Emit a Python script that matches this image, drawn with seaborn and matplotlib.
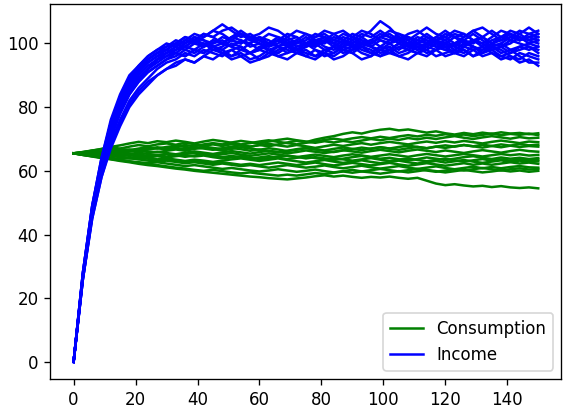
import pandas as pd
import matplotlib.pyplot as plt
import seaborn as sns

# time grid the paths were read on (every 3 periods)
t = list(range(0, 151, 3))

consumption_paths = [
    [65.5, 65.9, 66.4, 66.8, 67.3, 67.0, 67.6, 68.1, 67.7, 68.3,
     68.6, 68.2, 68.8, 68.4, 67.9, 68.3, 67.8, 68.4, 68.0, 67.6,
     68.1, 67.7, 68.3, 68.9, 69.4, 69.0, 69.8, 70.4, 70.9, 71.6,
     72.1, 71.7, 72.4, 72.9, 73.2, 72.7, 73.0, 72.5, 72.0, 72.4,
     71.8, 71.4, 71.9, 71.5, 72.0, 71.6, 72.1, 71.7, 71.9, 71.5, 71.8],
    [65.5, 65.8, 66.3, 66.9, 67.5, 68.0, 68.6, 69.1, 68.7, 69.3,
     69.0, 69.5, 69.1, 68.6, 69.2, 69.7, 69.3, 68.8, 68.3, 68.7,
     69.2, 69.6, 69.1, 68.7, 68.3, 68.8, 69.2, 69.7, 70.1, 69.7,
     70.2, 70.6, 70.2, 70.7, 70.3, 70.8, 71.2, 70.8, 71.3, 71.0,
     71.5, 71.1, 71.4, 70.9, 71.3, 71.7, 71.2, 71.6, 71.3, 71.7, 71.2],
    [65.5, 65.3, 65.7, 66.1, 65.8, 66.3, 66.7, 66.3, 66.9, 67.4,
     67.0, 67.6, 68.1, 67.7, 68.3, 68.7, 68.3, 68.9, 69.4, 69.0,
     68.6, 69.2, 69.7, 70.1, 69.6, 69.2, 68.8, 69.3, 68.9, 69.4,
     69.0, 69.5, 70.0, 69.6, 70.1, 69.7, 70.3, 69.9, 70.4, 70.0,
     70.5, 70.9, 70.4, 70.0, 70.5, 70.9, 70.5, 70.1, 70.6, 70.2, 70.4],
    [65.5, 65.7, 65.4, 65.9, 66.3, 66.0, 66.5, 66.1, 66.7, 67.1,
     66.7, 67.2, 66.8, 67.3, 67.0, 66.6, 67.1, 67.6, 68.0, 67.6,
     68.1, 68.5, 68.0, 67.6, 68.1, 67.7, 67.2, 67.7, 68.2, 67.8,
     68.3, 68.7, 68.2, 68.7, 69.1, 68.7, 68.3, 68.8, 69.2, 68.8,
     69.3, 68.9, 69.4, 69.0, 68.6, 69.1, 69.5, 69.1, 68.7, 69.2, 69.0],
    [65.5, 65.3, 65.7, 65.4, 65.9, 65.6, 66.1, 66.5, 66.1, 65.8,
     66.3, 66.7, 66.3, 66.9, 67.3, 66.8, 66.4, 66.9, 67.4, 67.0,
     66.6, 67.1, 66.7, 66.2, 66.6, 67.1, 66.7, 66.3, 65.9, 66.4,
     66.8, 67.3, 66.9, 67.4, 67.0, 66.6, 67.1, 67.5, 67.1, 67.6,
     67.2, 67.7, 68.1, 67.7, 67.3, 67.8, 67.4, 67.9, 67.5, 67.8, 67.6],
    [65.5, 65.6, 65.3, 65.7, 65.4, 65.8, 65.5, 65.1, 65.6, 66.0,
     65.6, 65.2, 65.7, 66.1, 65.7, 65.3, 65.8, 66.2, 65.8, 65.4,
     65.9, 66.3, 65.9, 65.5, 65.9, 66.4, 66.0, 65.6, 66.0, 66.5,
     66.1, 65.7, 66.2, 66.6, 66.2, 65.8, 66.3, 66.7, 66.3, 65.9,
     66.4, 66.0, 65.6, 66.1, 66.5, 66.1, 65.7, 66.2, 66.6, 66.2, 66.0],
    [65.5, 65.2, 65.5, 65.1, 65.4, 65.0, 65.3, 65.7, 65.3, 64.9,
     65.3, 64.9, 65.3, 65.6, 65.2, 64.8, 65.2, 65.6, 65.1, 64.7,
     65.1, 65.5, 65.1, 64.7, 64.3, 64.7, 65.1, 64.7, 64.3, 64.8,
     65.2, 64.8, 64.4, 64.8, 65.2, 64.8, 64.4, 64.9, 65.3, 64.9,
     64.5, 64.9, 65.3, 64.9, 64.5, 64.9, 65.3, 64.9, 65.2, 64.8, 65.0],
    [65.5, 65.3, 65.0, 64.7, 65.0, 64.6, 64.9, 64.5, 64.2, 64.6,
     64.2, 64.6, 64.9, 64.5, 64.8, 64.3, 63.9, 64.2, 64.6, 64.1,
     63.7, 64.0, 64.5, 64.8, 64.4, 63.9, 64.3, 63.9, 63.4, 63.8,
     64.3, 64.7, 64.2, 63.8, 64.1, 63.6, 63.3, 63.7, 64.2, 63.8,
     63.4, 63.8, 64.3, 64.6, 64.1, 63.7, 64.2, 63.8, 64.1, 63.7, 64.0],
    [65.5, 65.1, 64.8, 64.5, 64.8, 64.3, 64.0, 63.7, 64.0, 63.6,
     63.9, 63.5, 63.1, 63.5, 63.2, 62.8, 63.2, 63.6, 63.9, 63.5,
     63.1, 63.5, 63.9, 63.4, 63.0, 62.6, 63.0, 63.4, 62.9, 62.5,
     62.9, 63.3, 62.8, 62.4, 62.8, 63.2, 62.7, 62.3, 62.7, 63.1,
     62.6, 63.0, 63.4, 62.9, 62.5, 62.9, 63.3, 62.8, 63.2, 62.8, 63.0],
    [65.5, 65.2, 64.8, 64.5, 64.8, 64.3, 63.9, 64.2, 63.8, 63.4,
     63.7, 63.3, 62.9, 63.2, 62.8, 62.4, 62.7, 62.3, 61.9, 62.2,
     61.8, 62.2, 62.6, 62.2, 61.8, 62.2, 62.6, 62.1, 61.7, 62.1,
     62.5, 62.1, 61.7, 62.1, 62.5, 62.0, 61.6, 62.0, 62.4, 62.0,
     61.6, 62.0, 62.4, 61.9, 62.3, 61.9, 62.3, 62.7, 62.3, 62.6, 62.2],
    [65.5, 65.3, 64.9, 64.5, 64.1, 63.7, 64.0, 63.6, 63.2, 62.9,
     63.2, 62.8, 62.4, 62.7, 62.3, 61.9, 62.3, 61.9, 61.5, 61.8,
     61.4, 61.0, 61.4, 61.8, 61.4, 61.0, 61.3, 61.7, 61.2, 60.8,
     61.2, 61.6, 61.1, 60.7, 61.1, 61.5, 61.0, 60.6, 61.0, 61.4,
     60.9, 60.5, 60.9, 61.3, 60.8, 61.2, 60.8, 61.2, 61.5, 61.1, 61.0],
    [65.5, 65.0, 64.6, 64.2, 63.8, 63.4, 63.0, 62.7, 62.4, 62.7,
     62.3, 61.9, 61.5, 61.8, 61.4, 61.0, 60.6, 60.9, 60.5, 60.1,
     59.8, 60.1, 60.5, 60.1, 59.7, 60.0, 60.4, 59.9, 59.5, 59.9,
     60.3, 59.8, 60.2, 60.6, 60.2, 59.8, 60.2, 60.6, 60.1, 59.7,
     60.1, 60.5, 60.1, 60.5, 60.9, 60.5, 60.1, 60.5, 60.8, 60.4, 60.6],
    [65.5, 65.0, 64.6, 64.2, 63.7, 63.3, 62.9, 62.5, 62.1, 61.8,
     61.4, 61.0, 60.7, 60.3, 60.0, 60.3, 59.9, 59.5, 59.2, 59.5,
     59.1, 58.8, 58.5, 58.8, 58.5, 58.9, 59.3, 59.0, 59.4, 59.8,
     59.4, 59.8, 59.5, 59.1, 59.5, 59.9, 59.5, 59.9, 60.3, 59.9,
     59.5, 59.9, 60.3, 59.9, 59.5, 59.8, 60.2, 59.8, 60.1, 59.7, 60.0],
    [65.5, 65.0, 64.5, 64.0, 63.6, 63.1, 62.7, 62.2, 61.8, 61.5,
     61.1, 60.7, 60.4, 60.0, 59.7, 59.4, 59.1, 58.8, 58.5, 58.2,
     58.0, 57.7, 57.5, 57.3, 57.6, 57.9, 58.3, 58.6, 58.2, 58.5,
     58.1, 57.8, 58.1, 57.9, 58.2, 57.8, 57.5, 57.8, 56.9, 56.0,
     55.5, 55.8, 55.4, 55.1, 55.3, 54.9, 55.2, 54.8, 54.6, 54.8, 54.5],
    [65.5, 65.9, 66.3, 66.0, 66.5, 66.9, 66.5, 67.0, 67.4, 67.0,
     67.5, 67.9, 67.5, 67.1, 67.6, 67.2, 66.8, 67.2, 66.8, 66.3,
     66.7, 66.2, 65.8, 66.3, 66.8, 67.2, 66.8, 66.4, 66.9, 67.3,
     66.9, 66.5, 67.0, 67.4, 67.0, 67.5, 67.9, 67.5, 67.1, 67.6,
     68.0, 67.6, 68.1, 67.7, 68.2, 67.8, 68.3, 67.9, 68.4, 68.0, 68.2],
    [65.5, 65.6, 65.3, 65.0, 65.4, 65.1, 64.7, 65.0, 64.6, 64.9,
     64.5, 64.9, 64.4, 64.8, 65.2, 64.7, 64.3, 64.7, 64.2, 63.8,
     64.2, 64.6, 64.1, 63.7, 64.1, 64.5, 64.0, 63.6, 64.0, 63.6,
     63.2, 63.6, 64.0, 63.5, 63.1, 63.5, 63.9, 63.4, 63.0, 63.4,
     63.8, 63.3, 62.9, 63.3, 63.7, 63.2, 63.6, 63.2, 63.6, 63.3, 63.5],
]

income_paths = [
    [0, 28, 49, 64, 76, 84, 90, 93, 96, 98,
     99, 101, 100, 102, 101, 99, 100, 102, 103, 101,
     100, 98, 99, 101, 102, 100, 99, 101, 103, 104,
     102, 100, 101, 99, 98, 100, 102, 101, 103, 101,
     99, 100, 102, 104, 102, 100, 101, 103, 102, 100, 101],
    [0, 26, 45, 58, 68, 75, 81, 85, 88, 90,
     92, 93, 95, 94, 96, 95, 97, 96, 98, 97,
     95, 96, 98, 99, 97, 96, 98, 97, 95, 96,
     98, 99, 97, 96, 98, 100, 98, 97, 99, 98,
     96, 97, 99, 98, 96, 97, 95, 96, 94, 95, 93],
    [0, 27, 47, 61, 72, 80, 86, 89, 92, 95,
     96, 98, 99, 101, 103, 102, 104, 105, 103, 101,
     102, 100, 101, 103, 102, 100, 99, 101, 100, 102,
     101, 99, 100, 102, 101, 103, 102, 100, 101, 99,
     100, 102, 103, 101, 100, 102, 104, 103, 101, 102, 103],
    [0, 27, 48, 62, 74, 82, 88, 92, 95, 97,
     98, 97, 99, 98, 100, 99, 97, 98, 96, 97,
     99, 98, 96, 97, 99, 100, 98, 96, 97, 99,
     100, 102, 104, 107, 105, 102, 99, 98, 100, 99,
     98, 97, 99, 101, 100, 98, 99, 101, 100, 99, 98],
    [0, 26, 46, 60, 70, 78, 84, 88, 91, 93,
     95, 96, 98, 97, 99, 100, 102, 101, 103, 102,
     100, 99, 101, 100, 98, 99, 101, 102, 100, 98,
     99, 101, 100, 102, 103, 101, 100, 98, 99, 101,
     102, 100, 99, 101, 100, 98, 99, 100, 102, 101, 100],
    [0, 28, 48, 63, 75, 83, 89, 93, 96, 98,
     100, 99, 101, 103, 102, 104, 103, 101, 100, 102,
     103, 105, 104, 102, 100, 101, 103, 102, 100, 99,
     101, 103, 102, 104, 102, 101, 103, 104, 102, 100,
     101, 103, 102, 104, 105, 103, 101, 102, 104, 103, 102],
    [0, 27, 47, 61, 71, 79, 85, 89, 92, 94,
     96, 97, 96, 98, 97, 99, 98, 96, 97, 95,
     96, 98, 97, 99, 98, 96, 95, 97, 96, 98,
     97, 99, 98, 96, 97, 99, 98, 97, 96, 98,
     99, 97, 96, 98, 99, 97, 96, 95, 97, 96, 95],
    [0, 27, 47, 62, 73, 81, 87, 91, 94, 96,
     97, 99, 101, 100, 102, 104, 106, 104, 102, 103,
     101, 100, 102, 101, 99, 100, 102, 103, 101, 100,
     102, 101, 99, 98, 100, 101, 99, 100, 102, 101,
     103, 102, 100, 101, 99, 101, 102, 104, 103, 101, 102],
    [0, 26, 46, 59, 69, 76, 82, 86, 89, 92,
     94, 95, 97, 96, 98, 97, 96, 98, 99, 97,
     98, 100, 99, 97, 98, 100, 101, 99, 98, 100,
     99, 97, 96, 98, 99, 97, 98, 100, 99, 101,
     100, 98, 97, 99, 98, 100, 99, 97, 98, 99, 97],
    [0, 27, 48, 63, 74, 82, 87, 91, 94, 96,
     98, 100, 99, 101, 100, 98, 99, 101, 100, 102,
     101, 99, 100, 102, 104, 103, 101, 100, 102, 101,
     99, 100, 101, 103, 102, 100, 99, 101, 100, 102,
     101, 99, 101, 103, 101, 99, 100, 102, 101, 103, 104],
    [0, 27, 47, 61, 72, 80, 85, 89, 92, 95,
     97, 98, 100, 102, 101, 100, 101, 99, 98, 100,
     102, 101, 99, 98, 97, 99, 100, 98, 99, 101,
     100, 98, 97, 99, 101, 102, 100, 99, 97, 98,
     100, 99, 98, 96, 97, 99, 98, 96, 95, 97, 96],
    [0, 28, 49, 63, 75, 83, 88, 92, 95, 97,
     99, 100, 102, 101, 103, 102, 100, 99, 101, 100,
     98, 100, 101, 99, 101, 103, 102, 104, 103, 101,
     103, 102, 100, 102, 104, 103, 101, 103, 105, 103,
     102, 104, 103, 101, 102, 100, 102, 103, 101, 102, 101],
    [0, 26, 45, 58, 67, 74, 80, 84, 87, 90,
     92, 94, 95, 94, 96, 98, 97, 95, 96, 94,
     95, 97, 96, 95, 97, 98, 96, 97, 99, 98,
     97, 95, 96, 98, 97, 96, 95, 97, 98, 96,
     97, 98, 100, 99, 97, 98, 96, 97, 99, 98, 99],
    [0, 27, 47, 62, 73, 81, 86, 90, 93, 95,
     97, 99, 98, 100, 99, 101, 100, 102, 101, 99,
     100, 98, 97, 99, 100, 102, 100, 101, 99, 97,
     98, 100, 99, 101, 100, 98, 100, 102, 101, 99,
     98, 100, 101, 99, 97, 99, 100, 98, 99, 100, 99],
    [0, 28, 49, 64, 75, 83, 89, 92, 95, 97,
     98, 100, 102, 101, 99, 101, 100, 102, 104, 102,
     101, 103, 102, 100, 101, 99, 100, 102, 101, 103,
     102, 104, 103, 101, 100, 102, 101, 99, 100, 102,
     104, 102, 101, 100, 102, 104, 102, 101, 103, 105, 103],
    [0, 27, 46, 60, 71, 78, 84, 88, 91, 93,
     95, 97, 96, 98, 97, 99, 98, 100, 99, 97,
     98, 97, 99, 100, 98, 97, 96, 98, 97, 99,
     98, 100, 99, 97, 98, 96, 97, 99, 98, 100,
     99, 97, 98, 96, 98, 99, 97, 98, 96, 94, 94],
]

# long format: one row per (series, path, time)
rows = []
for name, paths in [("Consumption", consumption_paths), ("Income", income_paths)]:
    for k, path in enumerate(paths):
        for ti, v in zip(t, path):
            rows.append({"t": ti, "value": v, "series": name, "path": f"{name}{k}"})
df = pd.DataFrame(rows)

# reference looks rendered at ~120 dpi (bigger text, ticks and lines)
fig, ax = plt.subplots(figsize=(566 / 120, 415 / 120), dpi=120)
sns.lineplot(data=df, x="t", y="value", hue="series", units="path", estimator=None,
             palette={"Consumption": "green", "Income": "blue"}, linewidth=1.5, ax=ax)
ax.set_xlabel("")
ax.set_ylabel("")
ax.set_xticks(range(0, 141, 20))
sns.move_legend(ax, "lower right", title=None)
plt.subplots_adjust(left=0.089, right=0.992, bottom=0.087, top=0.99)
plt.savefig("out.png", dpi=120)
plt.close()
